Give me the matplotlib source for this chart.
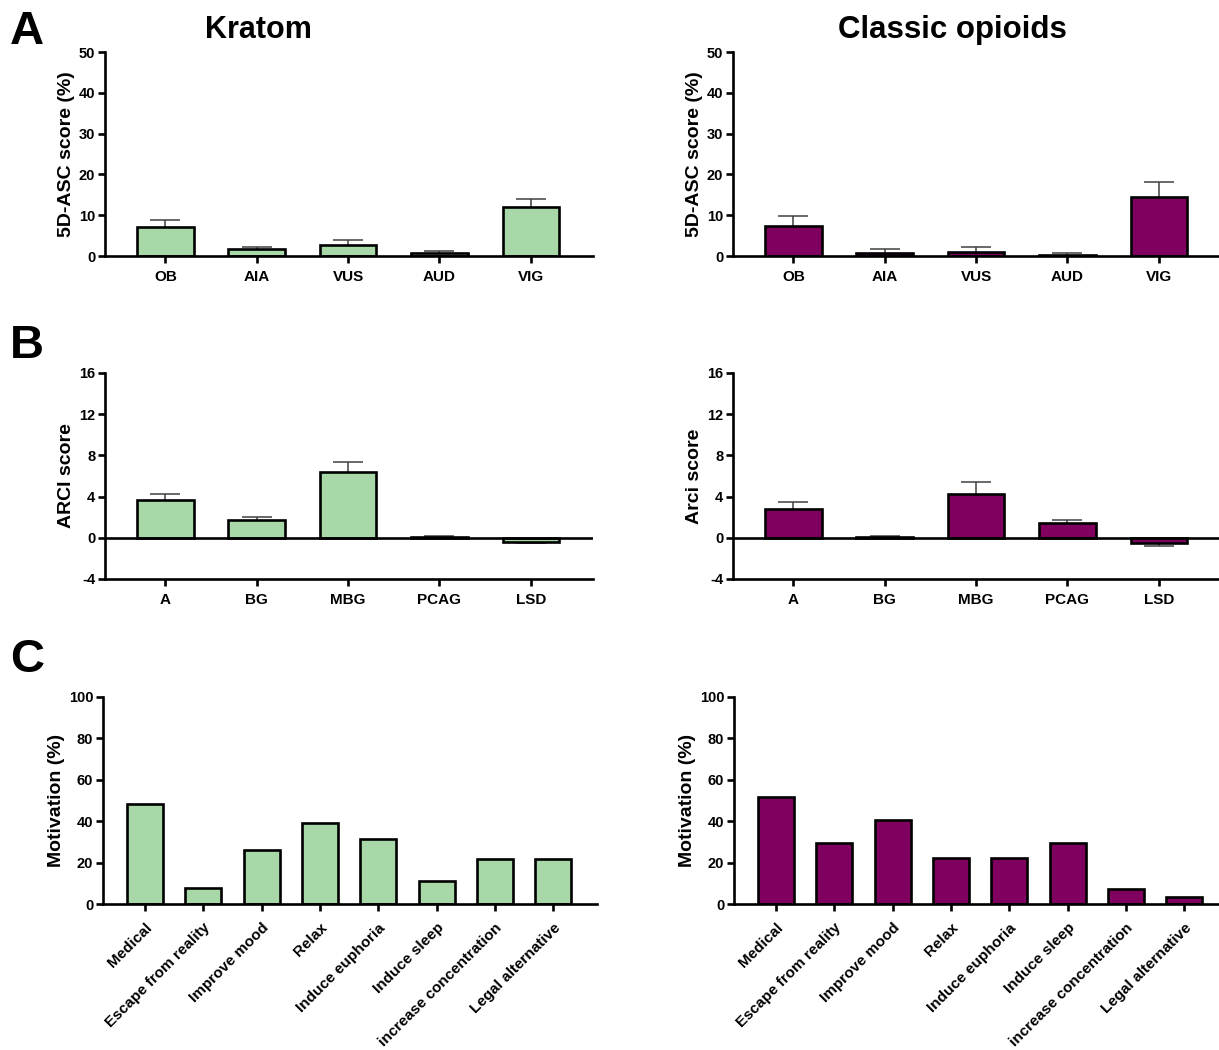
import matplotlib.pyplot as plt
import numpy as np

plt.rcParams['font.family'] = ['Liberation Sans', 'DejaVu Sans']
plt.rcParams['font.weight'] = 'bold'
plt.rcParams['axes.unicode_minus'] = False

green = '#a8d8a8'
purple = '#800060'

# panel A - 5D-ASC
asc_labels = ['OB', 'AIA', 'VUS', 'AUD', 'VIG']
asc_kratom = [7.2, 1.6, 2.7, 0.8, 12.1]
asc_kratom_err = [1.6, 0.7, 1.2, 0.5, 1.9]
asc_opioid = [7.4, 0.8, 1.1, 0.3, 14.4]
asc_opioid_err = [2.5, 0.8, 1.0, 0.5, 3.7]

# panel B - ARCI
arci_labels = ['A', 'BG', 'MBG', 'PCAG', 'LSD']
arci_kratom = [3.65, 1.71, 6.43, 0.08, -0.43]
arci_kratom_err = [0.58, 0.3, 0.9, 0.05, 0.12]
arci_opioid = [2.81, 0.1, 4.3, 1.39, -0.49]
arci_opioid_err = [0.71, 0.05, 1.13, 0.36, 0.32]

# panel C - motivation
mot_labels = ['Medical', 'Escape from reality', 'Improve mood', 'Relax',
              'Induce euphoria', 'Induce sleep', 'increase concentration',
              'Legal alternative']
mot_kratom = [48.4, 7.8, 26.3, 39.0, 31.3, 10.9, 21.9, 21.9]
mot_opioid = [51.6, 29.4, 40.5, 22.0, 22.0, 29.4, 7.3, 3.5]

W, H = 1219, 1050
fig = plt.figure(figsize=(W / 100, H / 100), dpi=100)


def box(x0, ytop, x1, ybot):
    return [x0 / W, 1 - ybot / H, (x1 - x0) / W, (ybot - ytop) / H]


def style(ax, xpad=5):
    for s in ['top', 'right']:
        ax.spines[s].set_visible(False)
    for s in ['left', 'bottom']:
        ax.spines[s].set_linewidth(1.9)
    ax.tick_params(axis='both', length=5, width=1.9)
    ax.tick_params(axis='y', labelsize=10.5, pad=2)
    ax.tick_params(axis='x', pad=xpad)
    for t in ax.get_xticklabels() + ax.get_yticklabels():
        t.set_fontweight('bold')


def bar_panel(ax, labels, vals, errs, color, ylim, yticks, ylabel, zero_line=False):
    x = np.arange(len(labels))
    ax.errorbar(x, vals, yerr=errs, fmt='none', ecolor='#404040', elinewidth=1.1,
                capsize=11, capthick=1.1, zorder=1)
    ax.bar(x, vals, width=0.62, color=color, edgecolor='black', linewidth=1.9, zorder=2)
    if zero_line:
        ax.axhline(0, color='black', linewidth=1.9, zorder=3)
    ax.set_xlim(-0.66, len(labels) - 1 + 0.68)
    ax.set_ylim(*ylim)
    ax.set_yticks(yticks)
    ax.set_xticks(x)
    ax.set_xticklabels(labels, fontsize=11, fontweight='bold')
    ax.set_ylabel(ylabel, fontsize=14, fontweight='bold', labelpad=3)
    style(ax)


ax = fig.add_axes(box(105, 52, 593, 256))
bar_panel(ax, asc_labels, asc_kratom, asc_kratom_err, green, (0, 50),
          [0, 10, 20, 30, 40, 50], '5D-ASC score (%)')
ax = fig.add_axes(box(733, 52, 1221, 256))
bar_panel(ax, asc_labels, asc_opioid, asc_opioid_err, purple, (0, 50),
          [0, 10, 20, 30, 40, 50], '5D-ASC score (%)')

ax = fig.add_axes(box(105, 373, 593, 579))
bar_panel(ax, arci_labels, arci_kratom, arci_kratom_err, green, (-4, 16),
          [-4, 0, 4, 8, 12, 16], 'ARCI score', zero_line=True)
ax = fig.add_axes(box(733, 373, 1221, 579))
bar_panel(ax, arci_labels, arci_opioid, arci_opioid_err, purple, (-4, 16),
          [-4, 0, 4, 8, 12, 16], 'Arci score', zero_line=True)

for x0, x1, vals, color in [(103, 597, mot_kratom, green), (734, 1228, mot_opioid, purple)]:
    ax = fig.add_axes(box(x0, 697, x1, 904))
    x = np.arange(len(mot_labels))
    ax.bar(x, vals, width=0.62, color=color, edgecolor='black', linewidth=1.9)
    ax.set_xlim(-0.72, len(mot_labels) - 1 + 0.75)
    ax.set_ylim(0, 100)
    ax.set_yticks([0, 20, 40, 60, 80, 100])
    ax.set_xticks(x)
    ax.set_xticklabels(mot_labels, rotation=45, ha='right', va='top',
                       rotation_mode='anchor', fontsize=11, fontweight='bold')
    ax.set_ylabel('Motivation (%)', fontsize=14, fontweight='bold', labelpad=3)
    style(ax, xpad=7)

fig.text(258 / W, 1 - 30 / H, 'Kratom', fontsize=22, fontweight='bold', ha='center', va='center')
fig.text(952 / W, 1 - 30 / H, 'Classic opioids', fontsize=22.5, fontweight='bold', ha='center', va='center')
for letter, yc in [('A', 32), ('B', 346), ('C', 660)]:
    fig.text(10 / W, 1 - yc / H, letter, fontsize=34, fontweight='bold', ha='left', va='center')

fig.savefig('out.png', dpi=100)
